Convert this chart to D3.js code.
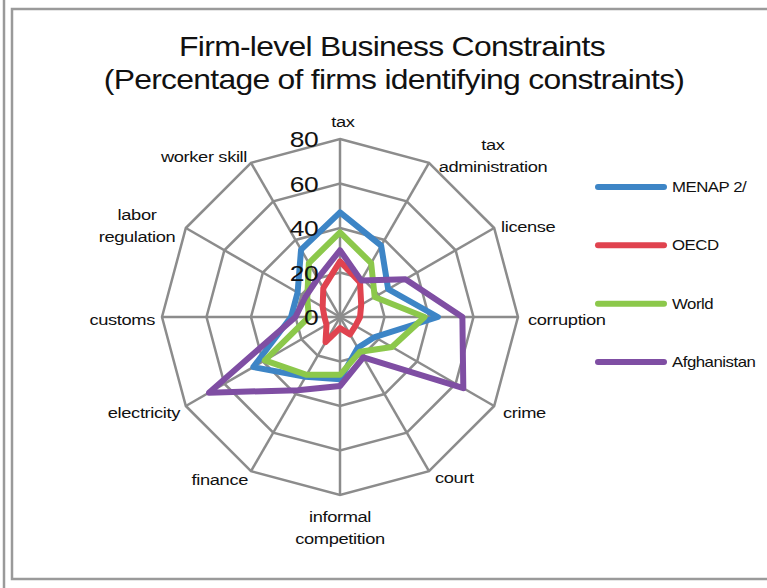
<!DOCTYPE html>
<html lang="en">
<head>
<meta charset="utf-8" />
<title>Firm-level Business Constraints</title>
<script src="https://d3js.org/d3.v7.min.js"></script>
<style>
  body { margin: 0; background: #fff; }
  text { font-family: "Liberation Sans", Arial, sans-serif; fill: #111; }
</style>
</head>
<body>
<div id="chart"></div>
<script>
// constraint axes, clockwise from the top
var categories = ["tax", "tax administration", "license", "corruption", "crime", "court",
  "informal competition", "finance", "electricity", "customs", "labor regulation", "worker skill"];

var menap       = [47, 37, 25, 44, 18, 16, 28, 31, 45, 22, 22, 35];
var oecd        = [25, 18, 11,  9,  8,  9,  5, 13,  7,  7,  9, 15];
var world       = [38, 28, 18, 38, 27, 18, 26, 30, 39, 14, 17, 28];
var afghanistan = [30, 19, 34, 55, 64, 21, 31, 38, 68, 20, 18, 20];

var seriesNames = ["MENAP 2/", "OECD", "World", "Afghanistan"];
var ticks = [0, 20, 40, 60, 80];

var width = 767, height = 588;
var cx = 340, cy = 317;
var colors = ["#3d85c6", "#e0434f", "#8cc84b", "#7f4ea3"];

var svg = d3.select("#chart").append("svg")
  .attr("width", width)
  .attr("height", height);

// text in the picture is drawn a bit wide, so stretch it horizontally
function place(x, y, sx) {
  return "translate(" + x + "," + y + ") scale(" + sx + ",1)";
}

// outer frame
svg.append("rect").attr("x", 12).attr("y", 9).attr("width", 770).attr("height", 570)
  .attr("fill", "none").attr("stroke", "#9a9a9a").attr("stroke-width", 2.5);
svg.append("line").attr("x1", 4).attr("x2", 4).attr("y1", 0).attr("y2", height)
  .attr("stroke", "#9a9a9a").attr("stroke-width", 2.5);

// title
[["Firm-level Business Constraints", 392, 56], ["(Percentage of firms identifying constraints)", 394, 89]]
  .forEach(function(t) {
    svg.append("text").attr("text-anchor", "middle")
      .attr("transform", place(t[1], t[2], 1.18))
      .style("font-size", "27px").style("letter-spacing", "-0.6px")
      .text(t[0]);
  });

var r = d3.scaleLinear().domain([0, 80]).range([0, 178]);
var angle = d3.scaleLinear().domain([0, categories.length]).range([0, 2 * Math.PI]);

var g = svg.append("g").attr("transform", "translate(" + cx + "," + cy + ")");

// grid rings
var ring = d3.lineRadial().curve(d3.curveLinearClosed)
  .angle(function(d, i) { return angle(i); });
ticks.slice(1).forEach(function(t) {
  g.append("path")
    .attr("d", ring.radius(r(t))(categories))
    .attr("fill", "none").attr("stroke", "#8c8c8c").attr("stroke-width", 2.5);
});

// spokes
g.selectAll(".spoke").data(categories).enter().append("line")
  .attr("class", "spoke")
  .attr("x1", 0).attr("y1", 0)
  .attr("x2", function(d, i) { return r(80) * Math.sin(angle(i)); })
  .attr("y2", function(d, i) { return -r(80) * Math.cos(angle(i)); })
  .attr("stroke", "#8c8c8c").attr("stroke-width", 2.5);

// series
var series = [menap, oecd, world, afghanistan];
var line = d3.lineRadial().curve(d3.curveLinearClosed)
  .angle(function(d, i) { return angle(i); })
  .radius(function(d) { return r(d); });
series.forEach(function(s, k) {
  g.append("path").attr("d", line(s))
    .attr("fill", "none").attr("stroke", colors[k])
    .attr("stroke-width", 6).attr("stroke-linejoin", "round");
});

// tick labels
g.selectAll(".tick").data(ticks).enter().append("text")
  .attr("class", "tick")
  .attr("transform", function(d) { return place(-22, -r(d) + 8, 1.2); })
  .attr("text-anchor", "end")
  .style("font-size", "22px").style("letter-spacing", "-0.5px")
  .text(function(d) { return d; });

// axis labels
var labelPos = [
  { x: 343, y: 122, a: "middle" },
  { x: 493, y: 145, a: "middle" },
  { x: 501, y: 227, a: "start" },
  { x: 528, y: 320, a: "start" },
  { x: 503, y: 413, a: "start" },
  { x: 435, y: 478, a: "start" },
  { x: 340, y: 517, a: "middle" },
  { x: 248, y: 480, a: "end" },
  { x: 180, y: 413, a: "end" },
  { x: 155, y: 320, a: "end" },
  { x: 137, y: 215, a: "middle" },
  { x: 247, y: 157, a: "end" }
];
var wrapped = { "tax administration": ["tax", "administration"],
  "informal competition": ["informal", "competition"],
  "labor regulation": ["labor", "regulation"] };
categories.forEach(function(c, i) {
  var p = labelPos[i];
  var lines = wrapped[c] || [c];
  lines.forEach(function(l, j) {
    svg.append("text").attr("text-anchor", p.a)
      .attr("transform", place(p.x, p.y + j * 22 + 5, 1.22))
      .style("font-size", "15px").style("letter-spacing", "-0.3px")
      .text(l);
  });
});

// legend
var legendY = d3.scalePoint().domain(seriesNames).range([187, 362]);
var lg = svg.append("g");
seriesNames.forEach(function(n, k) {
  lg.append("line").attr("x1", 598).attr("x2", 664)
    .attr("y1", legendY(n)).attr("y2", legendY(n))
    .attr("stroke", colors[k]).attr("stroke-width", 6).attr("stroke-linecap", "round");
  lg.append("text").attr("transform", place(672, legendY(n) + 5, 1.2))
    .style("font-size", "14px").style("letter-spacing", "-0.4px").text(n);
});
</script>
</body>
</html>
